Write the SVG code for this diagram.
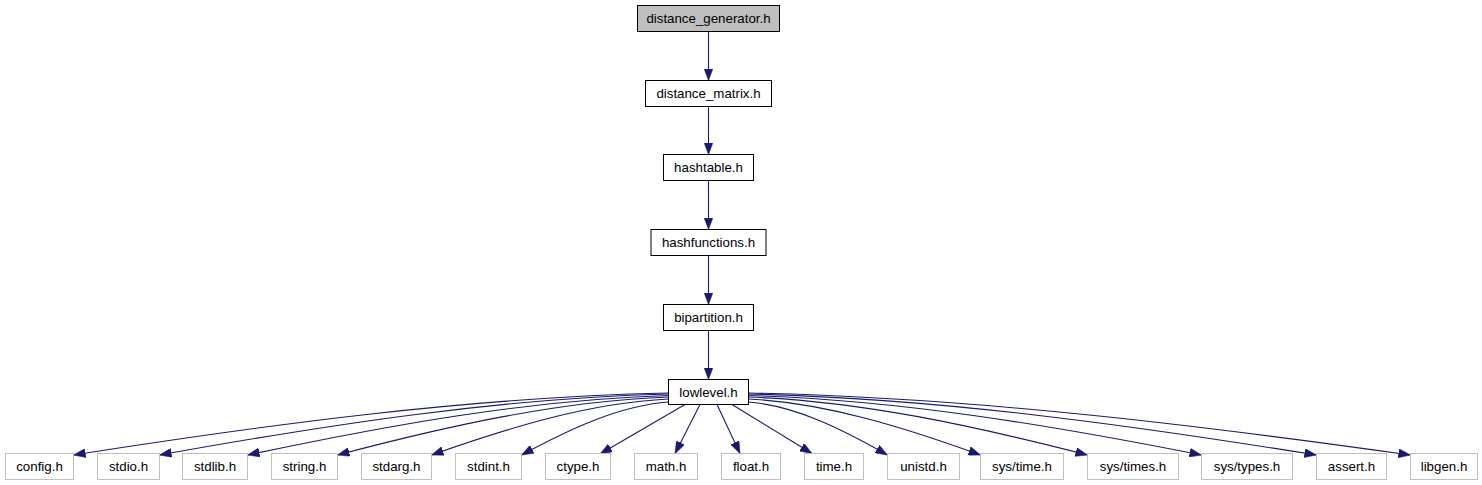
<svg xmlns="http://www.w3.org/2000/svg" width="1482" height="485" viewBox="0 0 1482 485">
<style>
rect.n{fill:#ffffff;stroke:#000000;stroke-width:1}
rect.top{fill:#bfbfbf;stroke:#000000;stroke-width:1}
rect.ext{fill:#ffffff;stroke:#bfbfbf;stroke-width:1}
text{font-family:"Liberation Sans",Arial,Helvetica,sans-serif;font-size:13.3px;fill:#000000;text-anchor:middle}
#edges path{fill:none;stroke:#191970;stroke-width:1.1;marker-end:url(#arrow)}
</style>
<defs>
<marker id="arrow" viewBox="0 0 12 9" markerWidth="12" markerHeight="9" markerUnits="userSpaceOnUse" refX="12" refY="4.5" orient="auto">
<path d="M0,0 L12,4.5 L0,9 z" fill="#191970" stroke="#191970" stroke-width="0.5"/>
</marker>
</defs>
<rect width="1482" height="485" fill="#ffffff"/>
<g id="edges">
<path d="M708.5,31.5 L708.5,80.5"/>
<path d="M708.5,106.5 L708.5,154.5"/>
<path d="M708.5,180.5 L708.5,229.5"/>
<path d="M708.5,255.5 L708.5,304.5"/>
<path d="M708.5,330.5 L708.5,379.5"/>
<path d="M668.5,393 C470.2,397.3 271.8,424 73.5,455"/>
<path d="M668.5,394 C498.8,398.3 329.2,424.5 159.5,455"/>
<path d="M668.5,395.5 C528.2,399.7 387.8,425.3 247.5,455"/>
<path d="M668.5,397 C558.2,401.1 447.8,426 337.5,455"/>
<path d="M668.5,399 C589.5,402.9 510.5,427 431.5,455"/>
<path d="M668.5,402 C619.5,405.7 570.5,428.5 521.5,455"/>
<path d="M685,404.5 L600,454"/>
<path d="M700,404.5 L675,453.5"/>
<path d="M717,404.5 L740,453.5"/>
<path d="M732,404.5 L812,453.5"/>
<path d="M748.5,402 C794.8,405.7 841.2,428.5 887.5,455"/>
<path d="M748.5,399 C825.8,402.9 903.2,427 980.5,455"/>
<path d="M748.5,397 C861.5,401.1 974.5,426 1087.5,455"/>
<path d="M748.5,395.5 C899.5,399.7 1050.5,425.3 1201.5,455"/>
<path d="M748.5,394 C937.8,398.3 1127.2,424.5 1316.5,455"/>
<path d="M748.5,393 C969.2,397.3 1189.8,424 1410.5,455"/>
</g>
<g id="node_distance_generator"><rect class="top" x="637.5" y="5.5" width="142" height="26"/><text x="708.5" y="23">distance_generator.h</text></g>
<g id="node_distance_matrix"><rect class="n" x="645.5" y="80.5" width="126" height="26"/><text x="708.5" y="98">distance_matrix.h</text></g>
<g id="node_hashtable"><rect class="n" x="663.5" y="154.5" width="90" height="26"/><text x="708.5" y="172">hashtable.h</text></g>
<g id="node_hashfunctions"><rect class="n" x="651" y="229.5" width="115" height="26"/><text x="708.5" y="247">hashfunctions.h</text></g>
<g id="node_bipartition"><rect class="n" x="663.5" y="304.5" width="90" height="26"/><text x="708.5" y="322">bipartition.h</text></g>
<g id="node_lowlevel"><rect class="n" x="668.5" y="379.5" width="80" height="25"/><text x="708.5" y="396.5">lowlevel.h</text></g>
<g id="node_config"><rect class="ext" x="5.5" y="453.5" width="68" height="26"/><text x="39.5" y="471">config.h</text></g>
<g id="node_stdio"><rect class="ext" x="97.5" y="453.5" width="62" height="26"/><text x="128.5" y="471">stdio.h</text></g>
<g id="node_stdlib"><rect class="ext" x="182.5" y="453.5" width="65" height="26"/><text x="215" y="471">stdlib.h</text></g>
<g id="node_string"><rect class="ext" x="271.5" y="453.5" width="66" height="26"/><text x="304.5" y="471">string.h</text></g>
<g id="node_stdarg"><rect class="ext" x="361.5" y="453.5" width="70" height="26"/><text x="396.5" y="471">stdarg.h</text></g>
<g id="node_stdint"><rect class="ext" x="455.5" y="453.5" width="66" height="26"/><text x="488.5" y="471">stdint.h</text></g>
<g id="node_ctype"><rect class="ext" x="545.5" y="453.5" width="65" height="26"/><text x="578" y="471">ctype.h</text></g>
<g id="node_math"><rect class="ext" x="634.5" y="453.5" width="63" height="26"/><text x="666" y="471">math.h</text></g>
<g id="node_float"><rect class="ext" x="721.5" y="453.5" width="59" height="26"/><text x="751" y="471">float.h</text></g>
<g id="node_time"><rect class="ext" x="804.5" y="453.5" width="59" height="26"/><text x="834" y="471">time.h</text></g>
<g id="node_unistd"><rect class="ext" x="887.5" y="453.5" width="72" height="26"/><text x="923.5" y="471">unistd.h</text></g>
<g id="node_sys_time"><rect class="ext" x="980.5" y="453.5" width="83" height="26"/><text x="1022" y="471">sys/time.h</text></g>
<g id="node_sys_times"><rect class="ext" x="1087.5" y="453.5" width="91" height="26"/><text x="1133" y="471">sys/times.h</text></g>
<g id="node_sys_types"><rect class="ext" x="1201.5" y="453.5" width="91" height="26"/><text x="1247" y="471">sys/types.h</text></g>
<g id="node_assert"><rect class="ext" x="1316.5" y="453.5" width="70" height="26"/><text x="1351.5" y="471">assert.h</text></g>
<g id="node_libgen"><rect class="ext" x="1410.5" y="453.5" width="67" height="26"/><text x="1444" y="471">libgen.h</text></g>
</svg>
